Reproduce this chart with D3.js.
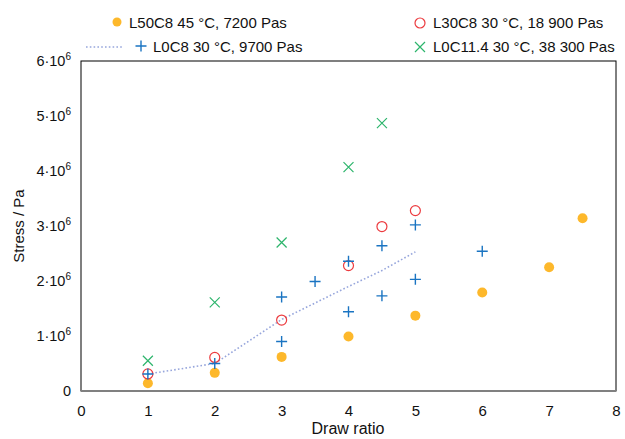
<!DOCTYPE html>
<html><head><meta charset="utf-8">
<script src="https://cdn.jsdelivr.net/npm/d3@7"></script>
<style>body{margin:0;background:#fff}svg{display:block;font-family:"Liberation Sans",Arial,sans-serif}</style>
</head><body><svg id="c" width="625" height="439"></svg>
<script>
const l50x = [1, 2, 3, 4, 5, 6, 7, 7.5];
const l50y = [0.14, 0.33, 0.62, 0.99, 1.37, 1.79, 2.25, 3.14];
const l30x = [1, 2, 3, 4, 4.5, 5];
const l30y = [0.31, 0.61, 1.29, 2.28, 2.99, 3.28];
const l0x = [1, 2, 3, 3, 3.5, 4, 4, 4.5, 4.5, 5, 5, 6];
const l0y = [0.31, 0.50, 1.71, 0.90, 1.99, 2.36, 1.44, 2.64, 1.73, 3.02, 2.03, 2.54];
const l0avgX = [1, 2, 3, 4, 4.5, 5];
const l0avgY = [0.31, 0.50, 1.30, 1.90, 2.19, 2.53];
const l11x = [1, 2, 3, 4, 4.5];
const l11y = [0.55, 1.61, 2.70, 4.07, 4.87];
const xTicks = [0, 1, 2, 3, 4, 5, 6, 7, 8];
const yTicks = [0, 1, 2, 3, 4, 5, 6];
const legendLabels = ["L50C8 45 °C, 7200 Pas", "L30C8 30 °C, 18 900 Pas", "L0C8 30 °C, 9700 Pas", "L0C11.4 30 °C, 38 300 Pas"];

const C = {orange:"#fdb82b", red:"#ec3b3f", blue:"#1a74c2", green:"#2db56c", line:"#97a6dc"};
const svg = d3.select("#c");
const x = d3.scaleLinear().domain([0, 8]).range([81, 616]);
const y = d3.scaleLinear().domain([0, 6]).range([391, 61]);

// frame
svg.append("rect").attr("x", x(0)).attr("y", y(6)).attr("width", x(8)-x(0)).attr("height", y(0)-y(6))
  .attr("fill", "none").attr("stroke", "#000").attr("stroke-width", 1);
svg.append("line").attr("x1", x(0)).attr("x2", x(8)).attr("y1", y(0)).attr("y2", y(0))
  .attr("stroke", "#808080").attr("stroke-width", 2);

// axes labels
const xa = svg.append("g").attr("transform", `translate(0,${y(0)})`)
  .call(d3.axisBottom(x).tickValues(xTicks).tickSize(0).tickPadding(14).tickFormat(d3.format("d")));
xa.select(".domain").remove();
xa.selectAll("text").attr("font-size", 15).attr("fill", "#111").attr("font-family", "Liberation Sans, Arial, sans-serif");

const ya = svg.append("g").attr("transform", `translate(${x(0)},0)`)
  .call(d3.axisLeft(y).tickValues(yTicks).tickSize(0).tickPadding(10).tickFormat(() => ""));
ya.select(".domain").remove();
ya.selectAll(".tick text").each(function(d) {
  const t = d3.select(this).attr("font-size", 14.5).attr("fill", "#111").attr("font-family", "Liberation Sans, Arial, sans-serif");
  if (d === 0) { t.text("0"); }
  else {
    t.append("tspan").text(d + "·10");
    t.append("tspan").attr("dy", "-6").attr("font-size", 10).text("6");
  }
});

svg.append("text").attr("x", 348).attr("y", 434).attr("text-anchor", "middle").attr("font-size", 16).attr("fill", "#111").text("Draw ratio");
svg.append("text").attr("transform", `translate(24,${(y(0)+y(6))/2}) rotate(-90)`).attr("text-anchor", "middle").attr("font-size", 15).attr("fill", "#111").text("Stress / Pa");

// line
svg.append("path").datum(l0avgX.map((d,i)=>[d, l0avgY[i]]))
  .attr("d", d3.line().x(d=>x(d[0])).y(d=>y(d[1])))
  .attr("fill", "none").attr("stroke", C.line).attr("stroke-width", 1.6).attr("stroke-dasharray", "1.6,2.2");

function plus(g, cx, cy, s, col) {
  g.append("path").attr("d", `M${cx-s},${cy}H${cx+s}M${cx},${cy-s}V${cy+s}`).attr("stroke", col).attr("stroke-width", 1.4).attr("fill", "none");
}
function cross(g, cx, cy, s, col) {
  g.append("path").attr("d", `M${cx-s},${cy-s}L${cx+s},${cy+s}M${cx-s},${cy+s}L${cx+s},${cy-s}`).attr("stroke", col).attr("stroke-width", 1.2).attr("fill", "none");
}
const g = svg.append("g");
l50x.forEach((d,i)=> g.append("circle").attr("cx", x(d)).attr("cy", y(l50y[i])).attr("r", 5).attr("fill", C.orange));
l11x.forEach((d,i)=> cross(g, x(d), y(l11y[i]), 5, C.green));
l30x.forEach((d,i)=> g.append("circle").attr("cx", x(d)).attr("cy", y(l30y[i])).attr("r", 5).attr("fill", "none").attr("stroke", C.red).attr("stroke-width", 1.2));
l0x.forEach((d,i)=> plus(g, x(d), y(l0y[i]), 5.5, C.blue));

// legend
const lg = svg.append("g").attr("font-size", 15).attr("fill", "#111");
lg.append("circle").attr("cx", 117).attr("cy", 22).attr("r", 4.5).attr("fill", C.orange);
lg.append("text").attr("x", 129).attr("y", 27.5).text(legendLabels[0]);
lg.append("circle").attr("cx", 420).attr("cy", 23).attr("r", 5).attr("fill", "none").attr("stroke", C.red).attr("stroke-width", 1.2);
lg.append("text").attr("x", 433).attr("y", 27.5).text(legendLabels[1]);
lg.append("line").attr("x1", 86).attr("x2", 123).attr("y1", 47).attr("y2", 47).attr("stroke", C.line).attr("stroke-width", 1.6).attr("stroke-dasharray", "1.6,2.2");
plus(lg, 141, 46, 5.5, C.blue);
lg.append("text").attr("x", 153).attr("y", 51.5).text(legendLabels[2]);
cross(lg, 420, 47, 5, C.green);
lg.append("text").attr("x", 433).attr("y", 51.5).text(legendLabels[3]);
</script></body></html>
